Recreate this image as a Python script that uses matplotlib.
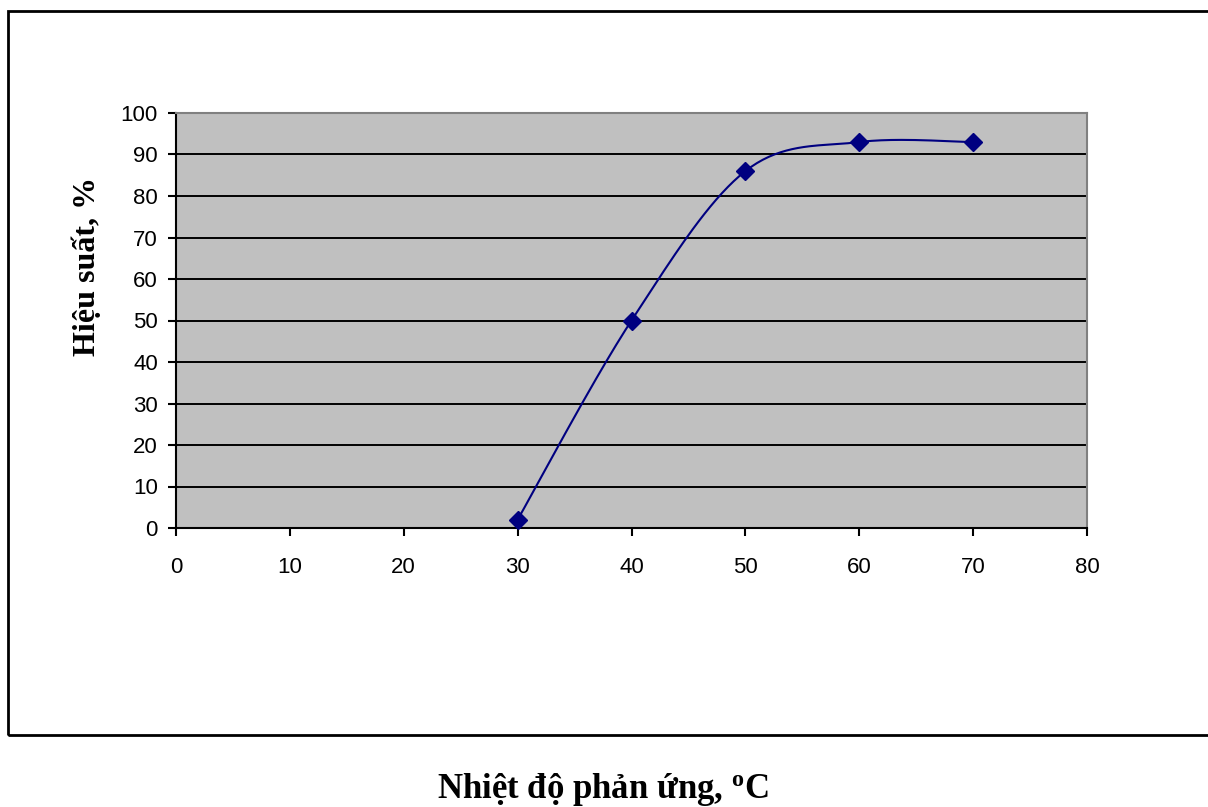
import numpy as np
import matplotlib
matplotlib.use("Agg")
import matplotlib.pyplot as plt
from matplotlib.patches import Rectangle

plt.rcParams["mathtext.fontset"] = "custom"
plt.rcParams["mathtext.rm"] = "Liberation Serif:bold"
plt.rcParams["mathtext.bf"] = "Liberation Serif:bold"
plt.rcParams["mathtext.it"] = "Liberation Serif:bold"

# Data
temperature = [30, 40, 50, 60, 70]
yield_pct = [2, 50, 86, 93, 93]
x_ticks = [0, 10, 20, 30, 40, 50, 60, 70, 80]
y_ticks = [0, 10, 20, 30, 40, 50, 60, 70, 80, 90, 100]
x_label = "Nhiệt độ phản ứng, $^{\\mathrm{o}}$C"
y_label = "Hiệu suất, %"


def smooth(xs, ys, n=40):
    """Excel-like smoothed line: cubic Bezier with Catmull-Rom control points."""
    P = np.column_stack([xs, ys]).astype(float)
    out = [P[0]]
    for i in range(len(P) - 1):
        p0 = P[i - 1] if i > 0 else P[i]
        p1 = P[i]
        p2 = P[i + 1]
        p3 = P[i + 2] if i + 2 < len(P) else P[i + 1]
        c1 = p1 + (p2 - p0) / 6.0
        c2 = p2 - (p3 - p1) / 6.0
        t = np.linspace(0, 1, n)[1:, None]
        seg = ((1 - t) ** 3) * p1 + 3 * ((1 - t) ** 2) * t * c1 + 3 * (1 - t) * t ** 2 * c2 + t ** 3 * p2
        out.extend(seg)
    out = np.array(out)
    return out[:, 0], out[:, 1]


W, H = 1208, 807
fig = plt.figure(figsize=(W / 100, H / 100), dpi=100)
fig.patch.set_facecolor("white")

# Outer chart frame
fig.add_artist(Rectangle((8 / W, 1 - 735 / H), (W + 10 - 8) / W, (735 - 11) / H,
                         transform=fig.transFigure, fill=False, edgecolor="black",
                         linewidth=2.0, clip_on=False))

left, right, top, bottom = 176, 1087, 113, 528
ax = fig.add_axes([left / W, 1 - bottom / H, (right - left) / W, (bottom - top) / H])
ax.set_facecolor("#C0C0C0")
ax.set_xlim(0, 80)
ax.set_ylim(0, 100)
ax.set_xticks(x_ticks)
ax.set_yticks(y_ticks)
ax.yaxis.grid(True, color="black", linewidth=1.4)
ax.set_axisbelow(True)

for s in ("top", "right"):
    ax.spines[s].set_color("#808080")
    ax.spines[s].set_linewidth(1.5)
for s in ("left", "bottom"):
    ax.spines[s].set_color("black")
    ax.spines[s].set_linewidth(1.5)

ax.tick_params(axis="both", direction="out", length=6, width=1.5, colors="black",
               labelsize=16)
ax.tick_params(axis="y", pad=7)
ax.tick_params(axis="x", pad=15)
for lbl in ax.get_xticklabels() + ax.get_yticklabels():
    lbl.set_fontfamily("Liberation Sans")

sx, sy = smooth(temperature, yield_pct)
ax.plot(sx, sy, color="#000080", linewidth=1.5, zorder=3, clip_on=False)
ax.plot(temperature, yield_pct, linestyle="none", marker="D", markersize=9,
        color="#000080", zorder=4, clip_on=False)

fig.text(87 / W, 1 - 266 / H, y_label, rotation=90, ha="center", va="center",
         fontsize=23, fontweight="bold", family="Liberation Serif")
fig.text(603 / W, 1 - 789 / H, x_label, ha="center", va="center",
         fontsize=25, fontweight="bold", family="Liberation Serif")

fig.savefig("out.png", dpi=100)
